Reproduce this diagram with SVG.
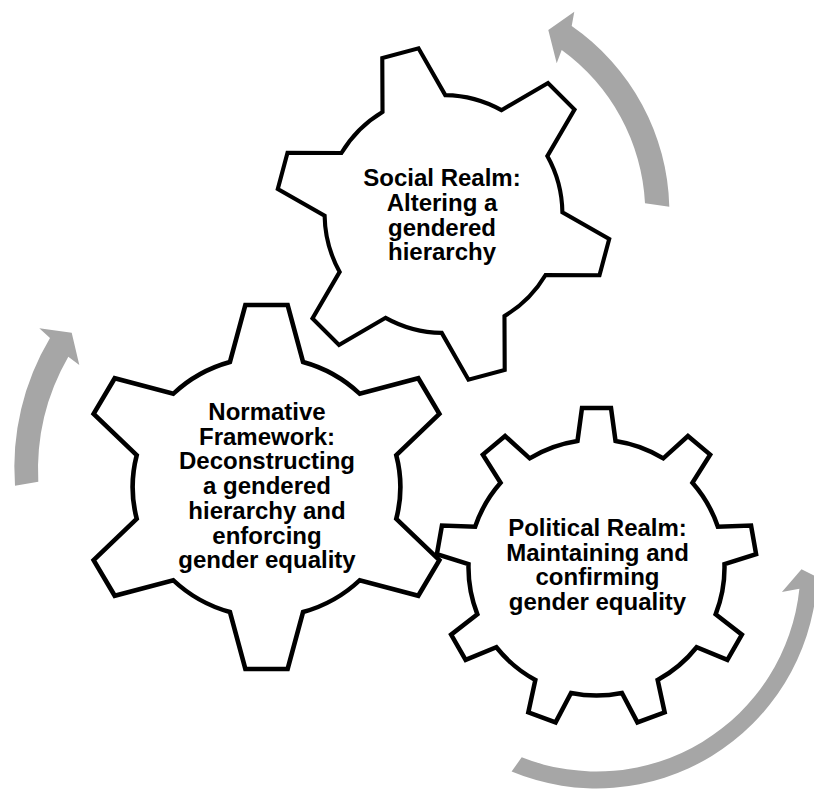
<svg xmlns="http://www.w3.org/2000/svg" xmlns:xlink="http://www.w3.org/1999/xlink" width="814" height="803" viewBox="0 0 814 803">
<style>
.gear{fill:#FFFFFF;stroke:#000000;stroke-width:4.5;stroke-linejoin:miter;vector-effect:non-scaling-stroke}
.arrow{fill:#A6A6A6;stroke:none}
.lbl{font-family:"Liberation Sans",Arial,sans-serif;font-weight:bold;font-size:24px;fill:#000000;text-anchor:middle}
</style>
<defs>
<path id="gear6" d="M -35.5,-125 L -20.5,-182 L 20.5,-182 L 35.5,-125 A 130 130 0 0 1 90.5,-93.24 L 147.36,-108.75 L 167.86,-73.25 L 126,-31.76 A 130 130 0 0 1 126,31.76 L 167.86,73.25 L 147.36,108.75 L 90.5,93.24 A 130 130 0 0 1 35.5,125 L 20.5,182 L -20.5,182 L -35.5,125 A 130 130 0 0 1 -90.5,93.24 L -147.36,108.75 L -167.86,73.25 L -126,31.76 A 130 130 0 0 1 -126,-31.76 L -167.86,-73.25 L -147.36,-108.75 L -90.5,-93.24 A 130 130 0 0 1 -35.5,-125 Z"/>
<path id="gear9" d="M -19,-126.6 L -14.5,-159.5 L 14.5,-159.5 L 19,-126.6 A 128 128 0 0 1 66.83,-109.19 L 91.42,-131.5 L 113.64,-112.86 L 95.93,-84.77 A 128 128 0 0 1 121.38,-40.69 L 154.56,-41.97 L 159.6,-13.41 L 127.98,-3.27 A 128 128 0 0 1 119.14,46.85 L 145.38,67.19 L 130.88,92.31 L 100.14,79.75 A 128 128 0 0 1 61.15,112.47 L 68.18,144.92 L 40.92,154.84 L 25.45,125.47 A 128 128 0 0 1 -25.45,125.47 L -40.92,154.84 L -68.18,144.92 L -61.15,112.47 A 128 128 0 0 1 -100.14,79.75 L -130.88,92.31 L -145.38,67.19 L -119.14,46.85 A 128 128 0 0 1 -127.98,-3.27 L -159.6,-13.41 L -154.56,-41.97 L -121.38,-40.69 A 128 128 0 0 1 -95.93,-84.77 L -113.64,-112.86 L -91.42,-131.5 L -66.83,-109.19 A 128 128 0 0 1 -19,-126.6 Z"/>
</defs>
<g id="connectors">
<path class="arrow" d="M 669.3,206.7 A 226.5 226.5 0 0 0 571.7,26 L 574.3,11.7 L 548.3,30 L 556.7,63.3 L 561.7,50 A 202 202 0 0 1 645,203.3 Z"/>
<path class="arrow" d="M 15,485.7 A 252 252 0 0 1 50,338 L 39.3,328.3 L 71.7,332.7 L 79.3,365 L 68.3,356.7 A 228 228 0 0 0 38.3,481.7 Z"/>
<path class="arrow" d="M 511.6,771.5 A 221 221 0 0 0 816.8,584.8 L 828,582.5 L 801.5,569.3 L 781.9,591.9 L 799.4,588.8 A 204 204 0 0 1 521.7,757.3 Z"/>
</g>
<g id="social">
<use xlink:href="#gear6" href="#gear6" class="gear" transform="translate(443.5,214) rotate(45) scale(0.915)"/>
<text class="lbl" x="442" y="185.5">Social Realm:</text>
<text class="lbl" x="442" y="210.5">Altering a</text>
<text class="lbl" x="442" y="235.5">gendered</text>
<text class="lbl" x="442" y="260">hierarchy</text>
</g>
<g id="normative">
<use xlink:href="#gear6" href="#gear6" class="gear" transform="translate(266.5,487) scale(1.03,1)"/>
<text class="lbl" x="267" y="420">Normative</text>
<text class="lbl" x="267" y="444.7">Framework:</text>
<text class="lbl" x="267" y="469.4">Deconstructing</text>
<text class="lbl" x="267" y="494.1">a gendered</text>
<text class="lbl" x="267" y="518.8">hierarchy and</text>
<text class="lbl" x="267" y="543.5">enforcing</text>
<text class="lbl" x="267" y="568.2">gender equality</text>
</g>
<g id="political">
<use xlink:href="#gear9" href="#gear9" class="gear" transform="translate(596.5,567.5)"/>
<text class="lbl" x="597.5" y="535.7">Political Realm:</text>
<text class="lbl" x="597.5" y="560.5">Maintaining and</text>
<text class="lbl" x="597.5" y="585.3">confirming</text>
<text class="lbl" x="597.5" y="610">gender equality</text>
</g>
</svg>
